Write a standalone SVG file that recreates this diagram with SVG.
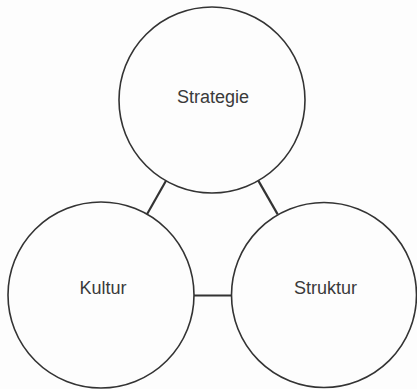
<svg xmlns="http://www.w3.org/2000/svg" width="417" height="389" viewBox="0 0 417 389">
<style>
.node circle{fill:none;stroke:#333;stroke-width:1.6}
.node text{font-family:"Liberation Sans",Arial,sans-serif;font-size:18px;fill:#3a3a3a;text-anchor:middle}
#connectors line{stroke:#333;stroke-width:2.2}
</style>
<rect width="417" height="389" fill="#fdfdfd"/>
<g id="connectors">
<line x1="166" y1="180.8" x2="147" y2="214.2"/>
<line x1="258.3" y1="180.6" x2="277.7" y2="214.4"/>
<line x1="194" y1="295.5" x2="231" y2="295.5"/>
</g>
<g id="strategie" class="node">
<circle cx="212" cy="100" r="93"/>
<text x="213" y="103">Strategie</text>
</g>
<g id="kultur" class="node">
<circle cx="101" cy="295" r="93"/>
<text x="103" y="294">Kultur</text>
</g>
<g id="struktur" class="node">
<circle cx="324" cy="295" r="92.5"/>
<text x="325.5" y="294">Struktur</text>
</g>
</svg>
